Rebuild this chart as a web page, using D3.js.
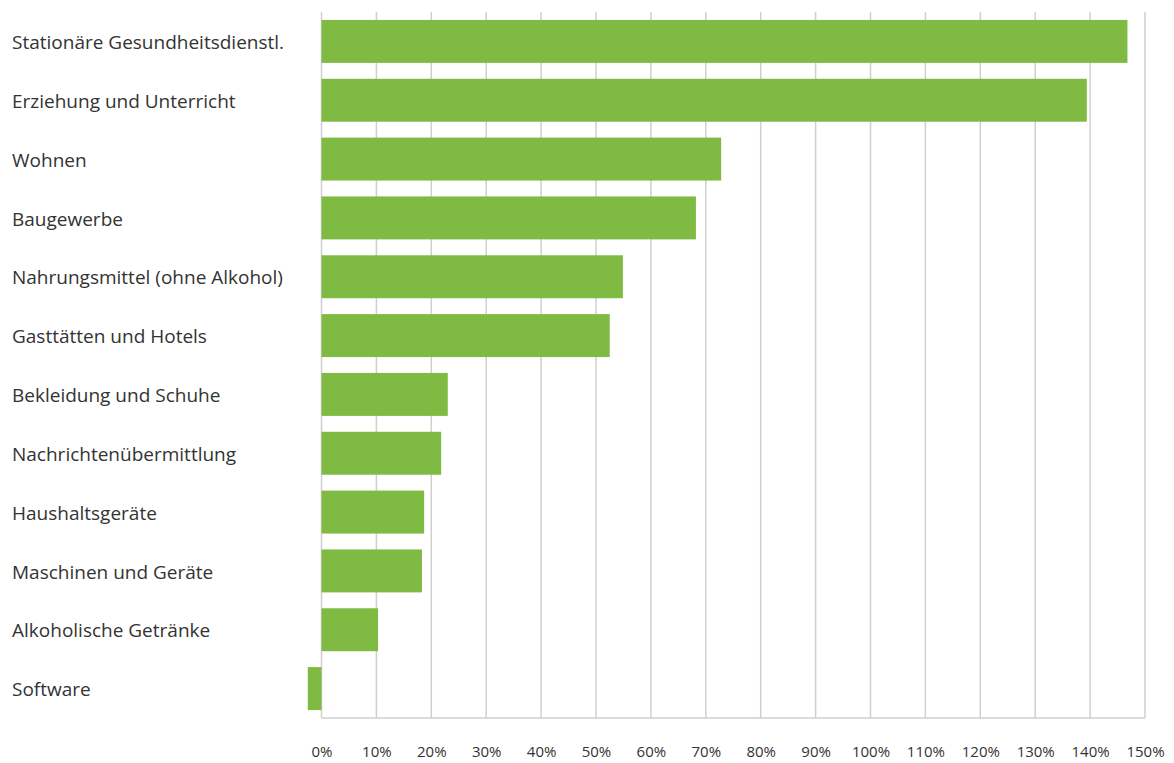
<!DOCTYPE html>
<html>
<head>
<meta charset="utf-8">
<script src="https://cdn.jsdelivr.net/npm/d3@7"></script>
<style>
  body { margin: 0; background: #fff; }
  svg text { font-family: "Open Sans", "Noto Sans", sans-serif; fill: #333; }
</style>
</head>
<body>
<div id="chart"></div>
<script>
const categories = [
  'Stationäre Gesundheitsdienstl.',
  'Erziehung und Unterricht',
  'Wohnen',
  'Baugewerbe',
  'Nahrungsmittel (ohne Alkohol)',
  'Gasttätten und Hotels',
  'Bekleidung und Schuhe',
  'Nachrichtenübermittlung',
  'Haushaltsgeräte',
  'Maschinen und Geräte',
  'Alkoholische Getränke',
  'Software'
];
const values = [146.8, 139.4, 72.8, 68.2, 54.9, 52.5, 23.0, 21.8, 18.7, 18.3, 10.3, -2.5];
const tickValues = d3.range(0, 151, 10);

const width = 1174, height = 763;
const margin = { top: 12, right: 29, bottom: 45, left: 321.5 };

const svg = d3.select('#chart').append('svg')
  .attr('width', width)
  .attr('height', height);

// Scales
const x = d3.scaleLinear().domain([0, 150]).range([margin.left, margin.left + 823.5]);
const y = d3.scaleBand().domain(categories)
  .range([margin.top, height - margin.bottom])
  .paddingInner(0.27).paddingOuter(0.135);

// Gridlines
svg.append('g')
  .selectAll('line')
  .data(tickValues)
  .join('line')
  .attr('x1', d => x(d)).attr('x2', d => x(d))
  .attr('y1', margin.top).attr('y2', height - margin.bottom)
  .attr('stroke', '#cfcfcf')
  .attr('stroke-width', 1.5);

svg.append('line')
  .attr('x1', x(0)).attr('x2', x(150))
  .attr('y1', height - margin.bottom).attr('y2', height - margin.bottom)
  .attr('stroke', '#cfcfcf')
  .attr('stroke-width', 1.5);

// Bars
svg.append('g')
  .selectAll('rect')
  .data(values)
  .join('rect')
  .attr('x', d => x(Math.min(0, d)))
  .attr('y', (d, i) => y(categories[i]))
  .attr('width', d => Math.abs(x(d) - x(0)))
  .attr('height', y.bandwidth())
  .attr('fill', '#7fba42');

// Category labels
svg.append('g')
  .selectAll('text')
  .data(categories)
  .join('text')
  .attr('x', 12)
  .attr('y', d => y(d) + y.bandwidth() / 2 + 1)
  .attr('dy', '0.35em')
  .style('font-size', '19px')
  .text(d => d);

// X axis labels
const xAxis = d3.axisBottom(x).tickValues(tickValues)
  .tickFormat(d => d + '%').tickSize(0).tickPadding(28);

svg.append('g')
  .attr('transform', 'translate(0,' + (height - margin.bottom) + ')')
  .call(xAxis)
  .call(g => g.select('.domain').remove())
  .call(g => g.selectAll('text')
    .style('font-size', '15px')
    .attr('fill', '#333'));
</script>
</body>
</html>
